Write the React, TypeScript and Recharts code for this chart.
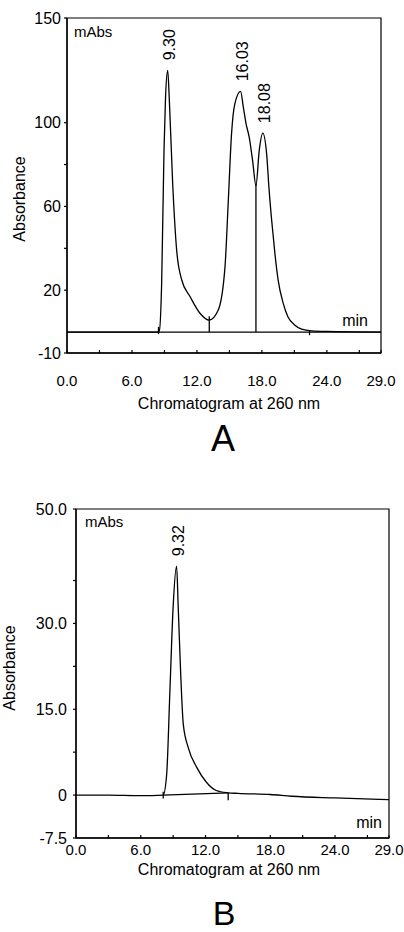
import React from "react";
import {
  LineChart,
  Line,
  XAxis,
  YAxis,
  ReferenceLine,
  ReferenceDot,
  ReferenceArea,
} from "recharts";

// ---- Chromatogram A ----
const timesA = [0, 4, 8.3, 8.52, 8.74, 8.96, 9.1, 9.3, 9.45, 9.76, 10.13, 10.59, 11.36, 12.28, 13.14, 13.97, 14.59, 14.9, 15.2, 15.5, 16.03, 16.28, 16.53, 16.83, 17.14, 17.45, 17.76, 18.08, 18.44, 18.65, 18.9, 19.2, 19.5, 19.97, 20.4, 21.05, 21.67, 22.6, 24, 29];
const absA = [0, 0, 0, 0.5, 23, 87, 112, 125, 111, 71, 39, 25, 17, 9, 5.7, 10.5, 31, 63, 95, 109, 115, 107.6, 99.7, 93, 82, 70, 87, 95, 85, 69, 53.5, 37.6, 24.8, 13.7, 7.3, 3.3, 1.4, 0.6, 0.3, 0];
const baseTimesA = [0, 29];
const baseAbsA = [0, 0];
const dropTimesA = [8.45, 13.14, 17.45, 22.4];
const dropTopA = [2.5, 7.5, 71, 1];
const dropBottomA = [-1, 0, 0, -1.5];
const peakTimesA = [9.3, 16.03, 18.08];
const peakAbsA = [125, 115, 95];
const peakNamesA = ["9.30", "16.03", "18.08"];
const yTicksA = [-10, 20, 40, 60, 80, 100, 150];
const yTickNamesA = ["-10", "20", "", "60", "", "100", "150"];

// ---- Chromatogram B ----
const timesB = [0, 3, 6, 8.08, 8.4, 8.7, 9.0, 9.32, 9.47, 9.7, 9.94, 10.4, 11.2, 12.1, 13.0, 14.1, 15, 18, 20, 24, 29];
const absB = [0, 0, -0.1, 0, 3.6, 18.2, 32.9, 40, 32.9, 21.2, 12.4, 8.3, 4.8, 2.2, 0.8, 0.4, 0.3, 0.1, -0.2, -0.5, -0.8];
const baseTimesB = [8.08, 14.1];
const baseAbsB = [0, 0.4];
const dropTimesB = [8.08, 14.1];
const dropTopB = [0.6, 0.4];
const dropBottomB = [-0.6, -0.9];
const peakTimesB = [9.32];
const peakAbsB = [40];
const peakNamesB = ["9.32"];
const yTicksB = [-7.5, 0, 7.5, 15, 22.5, 30, 37.5, 50];
const yTickNamesB = ["-7.5", "0", "", "15.0", "", "30.0", "", "50.0"];

// shared x axis
const xTicks = [0, 3, 6, 9, 12, 15, 18, 21, 24, 27, 29];
const xTickNames = ["0.0", "", "6.0", "", "12.0", "", "18.0", "", "24.0", "", "29.0"];

const FONT = "'Liberation Sans', Arial, sans-serif";
const INK = "#000";

const toRows = (ts: number[], vs: number[]) => ts.map((t, i) => ({ t, v: vs[i] }));

function makeYTick(values: number[], names: string[], gap: number) {
  return (props: any) => {
    const { x, y, payload } = props;
    const name = names[values.indexOf(payload.value)] || "";
    return (
      <g>
        <line x1={x - 3} x2={x} y1={y} y2={y} stroke={INK} strokeWidth={1.2} />
        {name && (
          <text x={x - gap} y={y} textAnchor="end" dominantBaseline="central" fontSize={16} fontFamily={FONT} fill={INK}>
            {name}
          </text>
        )}
      </g>
    );
  };
}

function makeXTick(offset: number) {
  return (props: any) => {
    const { x, y, payload } = props;
    const name = xTickNames[xTicks.indexOf(payload.value)] || "";
    return (
      <g>
        <line x1={x} x2={x} y1={y} y2={y - 3} stroke={INK} strokeWidth={1.2} />
        {name && (
          <text x={x} y={y + offset} textAnchor="middle" fontSize={15} fontFamily={FONT} fill={INK}>
            {name}
          </text>
        )}
      </g>
    );
  };
}

function peakLabel(text: string) {
  return (props: any) => {
    const vb = props.viewBox || {};
    const cx = (vb.x || 0) + (vb.width || 0) / 2 + 2;
    const cy = (vb.y || 0) + (vb.height || 0) / 2 - 10;
    return (
      <text
        x={cx}
        y={cy}
        transform={`rotate(-90 ${cx} ${cy})`}
        textAnchor="start"
        dominantBaseline="central"
        fontSize={16}
        fontFamily={FONT}
        fill={INK}
      >
        {text}
      </text>
    );
  };
}

interface ChromProps {
  width: number;
  height: number;
  margin: { top: number; right: number; bottom: number; left: number };
  yAxisWidth: number;
  yDomain: [number, number];
  yTicks: number[];
  yTickNames: string[];
  yGap: number;
  xOffset: number;
  times: number[];
  abs: number[];
  baseTimes: number[];
  baseAbs: number[];
  dropTimes: number[];
  dropTop: number[];
  dropBottom: number[];
  peakTimes: number[];
  peakAbs: number[];
  peakNames: string[];
}

function Chromatogram(p: ChromProps) {
  const trace = toRows(p.times, p.abs);
  const base = toRows(p.baseTimes, p.baseAbs);
  return (
    <LineChart width={p.width} height={p.height} margin={p.margin}>
      <XAxis
        type="number"
        dataKey="t"
        domain={[0, 29]}
        ticks={xTicks}
        interval={0}
        allowDataOverflow
        height={40}
        tickSize={0}
        tickMargin={0}
        tickLine={false}
        axisLine={{ stroke: INK, strokeWidth: 1.3 }}
        tick={makeXTick(p.xOffset)}
      />
      <YAxis
        type="number"
        domain={p.yDomain}
        ticks={p.yTicks}
        interval={0}
        allowDataOverflow
        width={p.yAxisWidth}
        tickSize={0}
        tickMargin={0}
        tickLine={false}
        axisLine={{ stroke: INK, strokeWidth: 1.3 }}
        tick={makeYTick(p.yTicks, p.yTickNames, p.yGap)}
      />
      <ReferenceArea
        x1={0}
        x2={29}
        y1={p.yDomain[0]}
        y2={p.yDomain[1]}
        fill="none"
        fillOpacity={0}
        stroke={INK}
        strokeWidth={1.2}
      />
      <Line
        data={base}
        dataKey="v"
        type="linear"
        stroke={INK}
        strokeWidth={1.3}
        dot={false}
        activeDot={false}
        isAnimationActive={false}
      />
      <Line
        data={trace}
        dataKey="v"
        type="monotone"
        stroke={INK}
        strokeWidth={1.3}
        dot={false}
        activeDot={false}
        isAnimationActive={false}
      />
      {p.dropTimes.map((t, i) => (
        <ReferenceLine
          key={`d${i}`}
          segment={[
            { x: t, y: p.dropBottom[i] },
            { x: t, y: p.dropTop[i] },
          ]}
          stroke={INK}
          strokeWidth={1.3}
        />
      ))}
      {p.peakTimes.map((t, i) => (
        <ReferenceDot
          key={`p${i}`}
          x={t}
          y={p.peakAbs[i]}
          r={1}
          fill="none"
          stroke="none"
          label={peakLabel(p.peakNames[i])}
        />
      ))}
    </LineChart>
  );
}

const txt = { fontFamily: FONT, fill: INK } as const;

export default function App() {
  return (
    <div style={{ position: "absolute", left: 0, top: 0, width: 404, height: 932, background: "#fff" }}>
      <div style={{ position: "absolute", left: 0, top: 0 }}>
        <Chromatogram
          width={404}
          height={460}
          margin={{ top: 18, right: 23, bottom: 67, left: 0 }}
          yAxisWidth={67}
          yDomain={[-10, 150]}
          yTicks={yTicksA}
          yTickNames={yTickNamesA}
          yGap={6}
          xOffset={33}
          times={timesA}
          abs={absA}
          baseTimes={baseTimesA}
          baseAbs={baseAbsA}
          dropTimes={dropTimesA}
          dropTop={dropTopA}
          dropBottom={dropBottomA}
          peakTimes={peakTimesA}
          peakAbs={peakAbsA}
          peakNames={peakNamesA}
        />
      </div>
      <div style={{ position: "absolute", left: 0, top: 470 }}>
        <Chromatogram
          width={404}
          height={462}
          margin={{ top: 39, right: 15, bottom: 54, left: 0 }}
          yAxisWidth={76}
          yDomain={[-7.5, 50]}
          yTicks={yTicksB}
          yTickNames={yTickNamesB}
          yGap={9}
          xOffset={17}
          times={timesB}
          abs={absB}
          baseTimes={baseTimesB}
          baseAbs={baseAbsB}
          dropTimes={dropTimesB}
          dropTop={dropTopB}
          dropBottom={dropBottomB}
          peakTimes={peakTimesB}
          peakAbs={peakAbsB}
          peakNames={peakNamesB}
        />
      </div>
      <svg
        width={404}
        height={932}
        style={{ position: "absolute", left: 0, top: 0, pointerEvents: "none" }}
      >
        {/* panel A captions */}
        <text x={74} y={37} fontSize={15} {...txt}>mAbs</text>
        <text x={368} y={326} fontSize={16} textAnchor="end" {...txt}>min</text>
        <text x={19} y={199} fontSize={16} textAnchor="middle" dominantBaseline="central" transform="rotate(-90 19 199)" {...txt}>
          Absorbance
        </text>
        <text x={229} y={409} fontSize={16} textAnchor="middle" {...txt}>Chromatogram at 260 nm</text>
        <text x={223} y={451} fontSize={36} textAnchor="middle" {...txt}>A</text>

        {/* panel B captions */}
        <text x={85} y={527} fontSize={15} {...txt}>mAbs</text>
        <text x={382} y={828} fontSize={16} textAnchor="end" {...txt}>min</text>
        <text x={9} y={668} fontSize={16} textAnchor="middle" dominantBaseline="central" transform="rotate(-90 9 668)" {...txt}>
          Absorbance
        </text>
        <text x={229} y={875} fontSize={16} textAnchor="middle" {...txt}>Chromatogram at 260 nm</text>
        <text x={224} y={925} fontSize={34} textAnchor="middle" {...txt}>B</text>
      </svg>
    </div>
  );
}
